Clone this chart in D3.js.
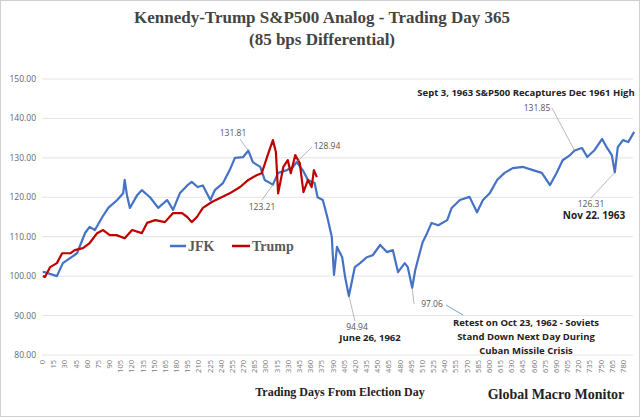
<!DOCTYPE html>
<html><head><meta charset="utf-8">
<script src="https://cdn.jsdelivr.net/npm/d3@7"></script>
<style>body{margin:0;background:#fff}</style></head>
<body><svg id="c" width="641" height="417"></svg>
<script>
const jfkDays=[1,4,20,28,47,58,64,71,81,89,101,109,111,114,118,128,134,145,156,168,176,185,195,201,209,216,226,232,243,252,259,270,277,283,293,299,310,317,329,337,342,350,357,366,370,377,383,389,392,396,403,407,412,420,427,436,444,454,463,471,478,487,491,497,501,507,511,517,523,532,544,550,561,574,584,592,601,611,621,632,646,659,671,682,691,699,709,715,725,732,742,752,758,765,769,773,780,787,795];
const jfkVals=[101,101,100,103.3,105.8,111,112.5,111.7,115,117.3,119.3,121,124.4,120.6,117.3,120.6,121.8,120,117.3,119.3,116.8,121,123,123.9,122.6,123,119.3,121.8,123.6,126.9,130,130.2,131.81,128.9,127.7,124.4,123.21,126.2,126.9,127.7,128.94,126.9,124.4,123.6,120,119.3,115,110,100.3,107.4,104.8,99.7,94.94,102.3,103.3,104.8,105.3,107.9,106.1,106.6,101,103.3,102.3,97.06,101.5,105.8,108.6,110.9,113.5,112.9,114.2,117.3,119.3,120.1,116.2,119.3,121,124.4,126.2,127.4,127.7,126.9,126.2,123.1,126.2,129.4,130.7,131.85,132.5,130.2,132,134.8,132.7,130.7,126.31,132.7,134.5,134,136.6];
const trumpDays=[1,4,11,20,27,38,44,55,64,74,82,91,100,111,121,134,141,152,165,176,188,195,201,208,216,228,239,252,266,277,288,295,303,310,314,317,324,330,334,340,346,351,357,362,365,369];
const trumpVals=[100,99.8,102.3,103.3,105.8,105.8,106.6,107.1,108.4,110.9,111.7,110.4,110.4,109.6,111.7,110.9,113.5,114.2,113.7,116,116,115,113.7,115,117.3,118.8,119.8,121,122.6,124.4,125.6,126.1,130.7,134.5,131.5,121,127.7,129.4,126.1,130.7,128.7,121.3,124.4,122.6,126.9,125.1];
const yTicks=[80,90,100,110,120,130,140,150];
const xTicks=d3.range(0,781,15);

const svg=d3.select("#c");
svg.append("rect").attr("x",0.5).attr("y",0.5).attr("width",639).attr("height",416).attr("fill","#fff").attr("stroke","#d0d0d0");
const x=d3.scaleLinear().domain([0,780]).range([42,623]);
const y=d3.scaleLinear().domain([80,150]).range([355,79]);
const ser="'Times New Roman','Liberation Serif',serif";
const sans="'Open Sans','Liberation Sans',sans-serif";

svg.append("g").selectAll("line").data(yTicks).join("line")
 .attr("x1",42).attr("x2",633).attr("y1",d=>y(d)).attr("y2",d=>y(d)).attr("stroke","#e3e3e3");
svg.append("g").selectAll("text").data(yTicks).join("text")
 .attr("x",36).attr("y",d=>y(d)+3).attr("text-anchor","end").attr("font-family",sans).attr("font-size",8.5).attr("fill","#666").text(d=>d.toFixed(2));
svg.append("g").selectAll("text").data(xTicks).join("text")
 .attr("transform",d=>`translate(${x(d)+3},360) rotate(-90)`).attr("text-anchor","end")
 .attr("font-family",sans).attr("font-size",7.5).attr("fill","#777").text(d=>d);

const line=d3.line().x(d=>x(d[0])).y(d=>y(d[1]));
svg.append("path").datum(jfkDays.map((d,i)=>[d,jfkVals[i]])).attr("d",line).attr("fill","none").attr("stroke","#4472C4").attr("stroke-width",2.2).attr("stroke-linejoin","round");
svg.append("path").datum(trumpDays.map((d,i)=>[d,trumpVals[i]])).attr("d",line).attr("fill","none").attr("stroke","#C00000").attr("stroke-width",2.2).attr("stroke-linejoin","round");

function lab(t,lx,ly,ax,ay,anchor){
 if(ax!=null) svg.append("line").attr("x1",ax).attr("y1",ay).attr("x2",lx).attr("y2",ly).attr("stroke","#999").attr("stroke-width",0.7);
 svg.append("text").attr("x",lx).attr("y",ly).attr("text-anchor",anchor||"middle").attr("font-family",sans).attr("font-size",8.5).attr("fill","#555").text(t);
}
function bold(t,bx,by,anchor,fs){
 svg.append("text").attr("x",bx).attr("y",by).attr("text-anchor",anchor||"middle").attr("font-family",sans).attr("font-weight","bold").attr("font-size",fs||9.5).attr("fill","#222").text(t);
}
lab("131.81",233,136); svg.append("line").attr("x1",240).attr("y1",139).attr("x2",x(277)).attr("y2",y(131.81)).attr("stroke","#999").attr("stroke-width",0.7);
lab("128.94",327,149); svg.append("line").attr("x1",312).attr("y1",147).attr("x2",x(342)).attr("y2",y(128.94)).attr("stroke","#999").attr("stroke-width",0.7);
lab("123.21",262,210); svg.append("line").attr("x1",262).attr("y1",200).attr("x2",x(310)).attr("y2",y(123.21)).attr("stroke","#999").attr("stroke-width",0.7);
lab("94.94",357,330); svg.append("line").attr("x1",355).attr("y1",321).attr("x2",x(412)).attr("y2",y(94.94)).attr("stroke","#999").attr("stroke-width",0.7);
bold("June 26, 1962",370,341);
lab("97.06",432,307); svg.append("line").attr("x1",414).attr("y1",304).attr("x2",x(497)).attr("y2",y(97.06)).attr("stroke","#999").attr("stroke-width",0.7);
svg.append("line").attr("x1",446).attr("y1",305).attr("x2",463).attr("y2",315).attr("stroke","#4472C4").attr("stroke-width",0.7);
bold("Retest on Oct 23, 1962 - Soviets",526,326);
bold("Stand Down Next Day During",526,340);
bold("Cuban Missile Crisis",526,354);
bold("Sept 3, 1963  S&P500 Recaptures Dec 1961 High",526,96);
lab("131.85",537,111); svg.append("line").attr("x1",552).attr("y1",108).attr("x2",x(715)).attr("y2",y(131.85)).attr("stroke","#999").attr("stroke-width",0.7);
lab("126.31",591,207); svg.append("line").attr("x1",591).attr("y1",198).attr("x2",x(769)).attr("y2",y(126.31)).attr("stroke","#999").attr("stroke-width",0.7);
bold("Nov 22. 1963",594,219,"middle",10);

// legend
svg.append("line").attr("x1",170).attr("x2",186).attr("y1",246).attr("y2",246).attr("stroke","#4472C4").attr("stroke-width",2.5);
svg.append("text").attr("x",188).attr("y",251).attr("font-family",ser).attr("font-weight","bold").attr("font-size",14).attr("fill","#595959").text("JFK");
svg.append("line").attr("x1",232).attr("x2",250).attr("y1",246).attr("y2",246).attr("stroke","#C00000").attr("stroke-width",2.5);
svg.append("text").attr("x",252).attr("y",251).attr("font-family",ser).attr("font-weight","bold").attr("font-size",14).attr("fill","#595959").text("Trump");

svg.append("text").attr("x",322).attr("y",23).attr("text-anchor","middle").attr("font-family",ser).attr("font-weight","bold").attr("font-size",17).attr("fill","#444").text("Kennedy-Trump  S&P500 Analog  - Trading Day 365");
svg.append("text").attr("x",322).attr("y",45).attr("text-anchor","middle").attr("font-family",ser).attr("font-weight","bold").attr("font-size",17).attr("fill","#444").text("(85 bps Differential)");
svg.append("text").attr("x",340).attr("y",396).attr("text-anchor","middle").attr("font-family",ser).attr("font-weight","bold").attr("font-size",12).attr("fill","#222").text("Trading  Days From  Election  Day");
svg.append("text").attr("x",556).attr("y",399).attr("text-anchor","middle").attr("font-family",ser).attr("font-weight","bold").attr("font-size",14).attr("fill","#222").text("Global Macro Monitor");
</script></body></html>
